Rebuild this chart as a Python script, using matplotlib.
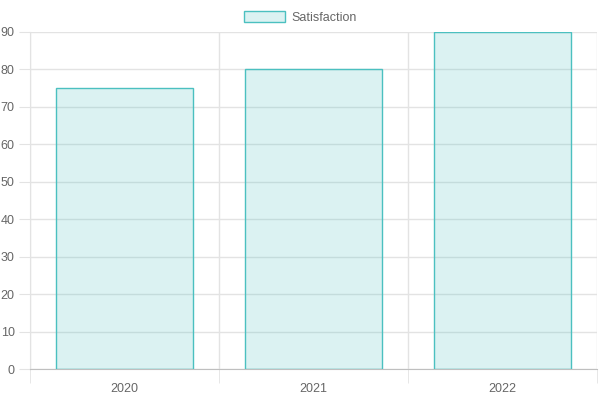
import matplotlib.pyplot as plt
from matplotlib.patches import Patch

years = ["2020", "2021", "2022"]
satisfaction = [75, 80, 90]

plt.rcParams['font.family'] = ['Liberation Sans', 'DejaVu Sans']

fig = plt.figure(figsize=(6, 4), dpi=100)
ax = fig.add_axes([30 / 600, 1 - 369 / 400, 567 / 600, 337 / 400])

x = list(range(len(years)))
ax.bar(x, satisfaction, width=0.72, color=(75 / 255, 192 / 255, 192 / 255, 0.2),
       edgecolor=(75 / 255, 192 / 255, 192 / 255), linewidth=1.0, zorder=3)

ax.set_xlim(-0.5, len(years) - 0.5)
ax.set_ylim(0, 90)
ax.set_yticks(range(0, 91, 10))
ax.set_xticks(x)
ax.set_xticklabels(years)
ax.set_xticks([i - 0.5 for i in range(len(years) + 1)], minor=True)

grid_c = '#e3e3e3'
ax.grid(True, axis='y', color=grid_c, linewidth=1, zorder=0)
ax.grid(True, axis='x', which='minor', color=grid_c, linewidth=1, zorder=0)
ax.tick_params(axis='x', which='major', length=0, pad=10, labelsize=9, labelcolor='#666666')
ax.tick_params(axis='x', which='minor', length=10, color=grid_c)
ax.tick_params(axis='y', length=8, color=grid_c, pad=3, labelsize=9, labelcolor='#666666')

for s in ['top', 'right']:
    ax.spines[s].set_visible(False)
ax.spines['left'].set_color(grid_c)
ax.spines['bottom'].set_color('#bfbfbf')

handle = Patch(facecolor=(75 / 255, 192 / 255, 192 / 255, 0.2),
               edgecolor=(75 / 255, 192 / 255, 192 / 255), linewidth=1.0)
fig.legend([handle], ['Satisfaction'], loc='upper center', bbox_to_anchor=(0.5, 1.0),
           frameon=False, fontsize=9, labelcolor='#666666',
           handlelength=3.3, handleheight=1.0, handletextpad=0.5, borderpad=0.4)

fig.savefig('out.png', dpi=100)
